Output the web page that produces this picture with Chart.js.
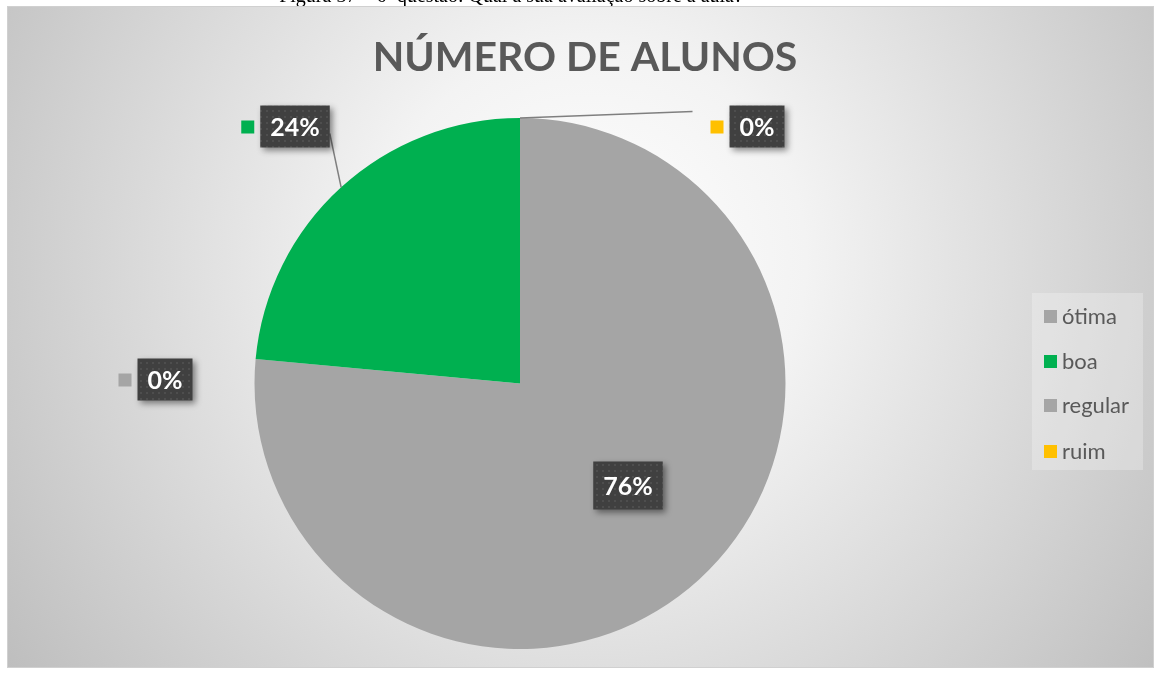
<!DOCTYPE html>
<html><head><meta charset="utf-8">
<script src="https://cdn.jsdelivr.net/npm/chart.js@4"></script>
<style>html,body{margin:0;padding:0;background:#fff}#wrap{width:1154px;height:675px;position:relative}</style>
</head><body><div id="wrap"><canvas id="c"></canvas></div>
<script>
const categories = ['ótima', 'boa', 'regular', 'ruim'];
const values = [13, 4, 0, 0];
const colors = ['#A5A5A5', '#00B050', '#A5A5A5', '#FFC000'];
const chartTitle = 'NÚMERO DE ALUNOS';
const caption = 'Figura 37 – 6ª questão: Qual a sua avaliação sobre a aula?';

const FONT = 'Lato, "Open Sans", sans-serif';
// label box centres, relative to pie centre
const labelOffsets = [[108, 102], [-225, -257], [237, -257], [-355, -4]];
const showKeySquare = [false, true, true, true];

function pctText(i) {
  const t = values.reduce((a, b) => a + b, 0);
  return Math.round(values[i] / t * 100) + '%';
}

let pat = null;
function getPattern(ctx) {
  if (pat) return pat;
  const p = document.createElement('canvas');
  p.width = 6; p.height = 6;
  const g = p.getContext('2d');
  g.fillStyle = '#404040'; g.fillRect(0, 0, 6, 6);
  g.fillStyle = '#4e4e4e'; g.fillRect(2, 2, 2, 2);
  pat = ctx.createPattern(p, 'repeat');
  return pat;
}

const deco = {
  id: 'deco',
  beforeDraw(chart) {
    const ctx = chart.ctx;
    const W = chart.width;
    ctx.save();
    // caption (mostly cut off at top)
    ctx.fillStyle = '#000';
    ctx.font = '20px "Liberation Serif", serif';
    ctx.textAlign = 'center';
    ctx.textBaseline = 'alphabetic';
    ctx.fillText(caption, 511, 2);
    // frame with radial gradient
    const gr = ctx.createRadialGradient(590, 260, 0, 590, 260, 720);
    gr.addColorStop(0, '#ffffff');
    gr.addColorStop(0.3, '#f3f3f3');
    gr.addColorStop(1, '#bdbdbd');
    ctx.fillStyle = gr;
    ctx.fillRect(7, 6, W - 7, 662);
    ctx.strokeStyle = '#d0d0d0';
    ctx.lineWidth = 1;
    ctx.strokeRect(7.5, 6.5, W - 8, 661);
    // title
    ctx.fillStyle = '#595959';
    let fs = 38;
    ctx.font = 'bold ' + fs + 'px ' + FONT;
    const tw = ctx.measureText(chartTitle).width;
    fs = fs * 425 / tw;
    ctx.font = 'bold ' + fs.toFixed(1) + 'px ' + FONT;
    ctx.textBaseline = 'middle';
    ctx.fillText(chartTitle, 585, 58);
    // legend
    ctx.fillStyle = 'rgba(255,255,255,0.25)';
    ctx.fillRect(1032, 293, 111, 177);
    ctx.font = '22px ' + FONT;
    ctx.textAlign = 'left';
    const ys = [316, 361, 405, 451];
    categories.forEach((c, i) => {
      ctx.fillStyle = colors[i];
      ctx.fillRect(1044, ys[i] - 6, 13, 13);
      ctx.fillStyle = '#595959';
      ctx.fillText(c, 1062, ys[i] + 1);
    });
    ctx.restore();
  },
  afterDatasetsDraw(chart) {
    const ctx = chart.ctx;
    const meta = chart.getDatasetMeta(0);
    const a0 = meta.data[0];
    const cx = a0.x, cy = a0.y, r = a0.outerRadius;
    ctx.save();
    ctx.font = 'bold 25px ' + FONT;
    const boxes = labelOffsets.map((o, i) => {
      const t = pctText(i);
      const w = ctx.measureText(t).width + 20;
      const h = i === 0 ? 48 : 42;
      return { x: cx + o[0] - w / 2, y: cy + o[1] - h / 2, w, h, t, mx: cx + o[0], my: cy + o[1] };
    });
    // leader lines
    ctx.strokeStyle = '#7f7f7f';
    ctx.lineWidth = 1.5;
    {
      const a = meta.data[1];
      const mid = (a.startAngle + a.endAngle) / 2;
      const b = boxes[1];
      ctx.beginPath();
      ctx.moveTo(cx + Math.cos(mid) * r, cy + Math.sin(mid) * r);
      ctx.lineTo(b.x + b.w, b.y + 28);
      ctx.stroke();
    }
    {
      const a = meta.data[3];
      const bb = boxes[2];
      ctx.beginPath();
      ctx.moveTo(cx + Math.cos(a.startAngle) * r, cy + Math.sin(a.startAngle) * r);
      ctx.lineTo(bb.x - 37, bb.my - 15);
      ctx.stroke();
    }
    // label boxes
    boxes.forEach((b, i) => {
      ctx.save();
      ctx.shadowColor = 'rgba(0,0,0,0.45)';
      ctx.shadowBlur = 6;
      ctx.shadowOffsetX = 3;
      ctx.shadowOffsetY = 3;
      ctx.fillStyle = getPattern(ctx);
      ctx.fillRect(b.x, b.y, b.w, b.h);
      ctx.restore();
      ctx.fillStyle = '#ffffff';
      ctx.textAlign = 'center';
      ctx.textBaseline = 'middle';
      ctx.fillText(b.t, b.mx, b.my + 1);
      if (showKeySquare[i]) {
        const idx = i === 2 ? 3 : (i === 3 ? 2 : i);
        ctx.fillStyle = colors[idx];
        ctx.fillRect(b.x - 19, b.my - 6, 13, 13);
      }
    });
    ctx.restore();
  }
};

new Chart(document.getElementById('c'), {
  type: 'pie',
  data: {
    labels: categories,
    datasets: [{ data: values, backgroundColor: colors, borderWidth: 0, hoverOffset: 0 }]
  },
  options: {
    responsive: true,
    maintainAspectRatio: false,
    animation: false,
    layout: { padding: { left: 254, right: 368, top: 118, bottom: 26 } },
    plugins: { legend: { display: false }, tooltip: { enabled: false } }
  },
  plugins: [deco]
});
</script>
</body></html>
